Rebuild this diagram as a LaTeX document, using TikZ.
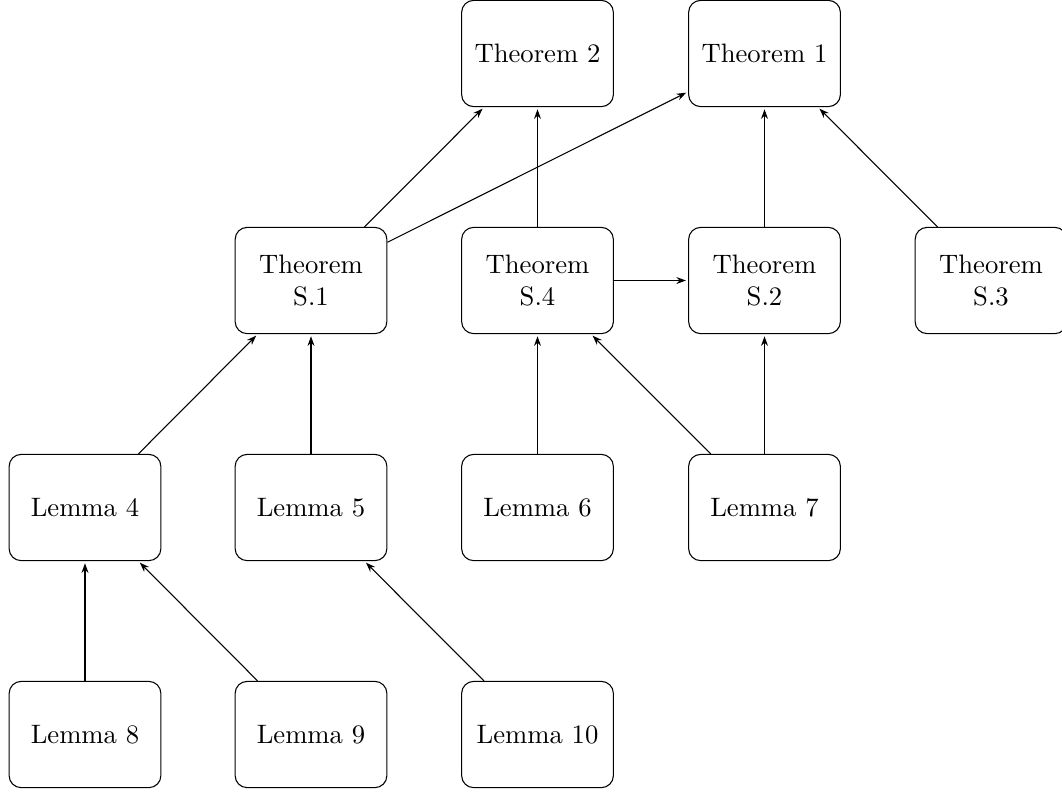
\documentclass[tikz,border=0pt]{standalone}
\usetikzlibrary{arrows.meta}
\begin{document}
\begin{tikzpicture}[x=0.375pt,y=-0.375pt,
  box/.style={draw,rounded corners=4.5pt,minimum width=2cm,minimum height=1.4cm,align=center,inner sep=2pt},
  arr/.style={-{Stealth[length=3.6pt,width=2.6pt]},shorten >=0.8pt}]
\useasboundingbox (0,0) rectangle (1062,791);
\node[box] (t2) at (537.5,53.5) {Theorem 2};
\node[box] (t1) at (764.5,53.5) {Theorem 1};
\node[box] (s1) at (311,280.5) {Theorem\\S.1};
\node[box] (s4) at (537.5,280.5) {Theorem\\S.4};
\node[box] (s2) at (764.5,280.5) {Theorem\\S.2};
\node[box] (s3) at (991,280.5) {Theorem\\S.3};
\node[box] (l4) at (85,507.5) {Lemma 4};
\node[box] (l5) at (311,507.5) {Lemma 5};
\node[box] (l6) at (537.5,507.5) {Lemma 6};
\node[box] (l7) at (764.5,507.5) {Lemma 7};
\node[box] (l8) at (85,734.5) {Lemma 8};
\node[box] (l9) at (311,734.5) {Lemma 9};
\node[box] (l10) at (537.5,734.5) {Lemma 10};
\draw[arr] (s1) -- (t2);
\draw[arr] (s1) -- (t1);
\draw[arr] (s4) -- (t2);
\draw[arr] (s4) -- (s2);
\draw[arr] (s2) -- (t1);
\draw[arr] (s3) -- (t1);
\draw[arr] (l4) -- (s1);
\draw[arr] (l5) -- (s1);
\draw[arr] (l6) -- (s4);
\draw[arr] (l7) -- (s4);
\draw[arr] (l7) -- (s2);
\draw[arr] (l8) -- (l4);
\draw[arr] (l9) -- (l4);
\draw[arr] (l10) -- (l5);
\end{tikzpicture}
\end{document}
